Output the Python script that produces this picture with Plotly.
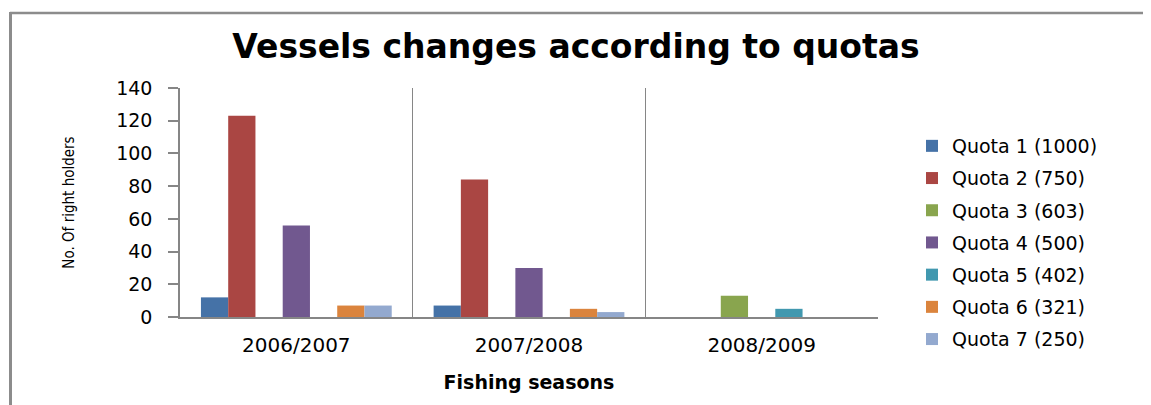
import plotly.graph_objects as go

seasons = ["2006/2007", "2007/2008", "2008/2009"]
quota_names = ["Quota 1 (1000)", "Quota 2 (750)", "Quota 3 (603)", "Quota 4 (500)",
               "Quota 5 (402)", "Quota 6 (321)", "Quota 7 (250)"]
quota1 = [12, 7, 0]
quota2 = [123, 84, 0]
quota3 = [0, 0, 13]
quota4 = [56, 30, 0]
quota5 = [0, 0, 5]
quota6 = [7, 5, 0]
quota7 = [7, 3, 0]
series = [quota1, quota2, quota3, quota4, quota5, quota6, quota7]
colors = ["#4572A7", "#AA4643", "#89A54E", "#71588F", "#4198AF", "#DB843D", "#93A9CF"]

OFF = 8  # page body margin
W, H = 1151 - OFF, 405 - OFF
# target plot area in window pixels: x 180..878, y 88..317
L, T = 180 - OFF, 88 - OFF
R = W - (878 - OFF)
B = H - (317 - OFF)
pw, ph = W - L - R, H - T - B

fig = go.Figure()
for name, vals, c in zip(quota_names, series, colors):
    fig.add_trace(go.Bar(x=seasons, y=vals, name=name, marker_color=c,
                         marker_line_width=0, legendgroup=name))

grey = "#868686"

def px_x(x):
    return (x - OFF - L) / pw

def px_y(y):
    return (H - B - (y - OFF)) / ph

fig.update_layout(
    width=W, height=H,
    margin=dict(l=L, r=R, t=T, b=B),
    paper_bgcolor="white", plot_bgcolor="white",
    barmode="group", bargap=0.18, bargroupgap=0,
    title=dict(text="<b>Vessels changes according to quotas</b>",
               font=dict(family="DejaVu Sans", size=33, color="black"),
               x=(576 - OFF) / W, xanchor="center", xref="container",
               y=1 - (46 - OFF) / H, yanchor="middle", yref="container"),
    xaxis=dict(showline=True, linecolor=grey, linewidth=1.5,
               tickson="boundaries", showgrid=True, gridcolor=grey, gridwidth=1,
               ticks="", ticklabelstandoff=9,
               tickfont=dict(family="DejaVu Sans", size=20, color="black"),
               title=dict(text="<b>Fishing seasons</b>",
                          font=dict(family="DejaVu Sans", size=19, color="black"),
                          standoff=20),
               zeroline=False),
    yaxis=dict(range=[0, 140], dtick=20, showline=True, linecolor=grey, linewidth=1.5,
               showgrid=False, zeroline=False,
               ticks="outside", ticklen=10, tickcolor=grey, tickwidth=1.5,
               ticklabelstandoff=12,
               tickfont=dict(family="DejaVu Sans", size=19, color="black"),
               title=dict(text="No. Of right holders",
                          font=dict(family="Liberation Sans Narrow, DejaVu Sans Condensed, Liberation Sans",
                                    size=15, color="black"),
                          standoff=38)),
    legend=dict(x=px_x(912), xanchor="left", y=px_y(127), yanchor="top",
                font=dict(family="DejaVu Sans", size=19, color="black"),
                tracegroupgap=4.5, itemwidth=30, bgcolor="rgba(0,0,0,0)",
                maxheight=390),
    showlegend=True,
    shapes=[
        dict(type="line", xref="paper", yref="paper",
             x0=px_x(10), x1=px_x(1160), y0=px_y(13), y1=px_y(13),
             line=dict(color="#8c8c8c", width=2.5)),
        dict(type="line", xref="paper", yref="paper",
             x0=px_x(10.5), x1=px_x(10.5), y0=px_y(12), y1=px_y(410),
             line=dict(color="#8c8c8c", width=3)),
    ],
)

fig.write_html("out.html")
